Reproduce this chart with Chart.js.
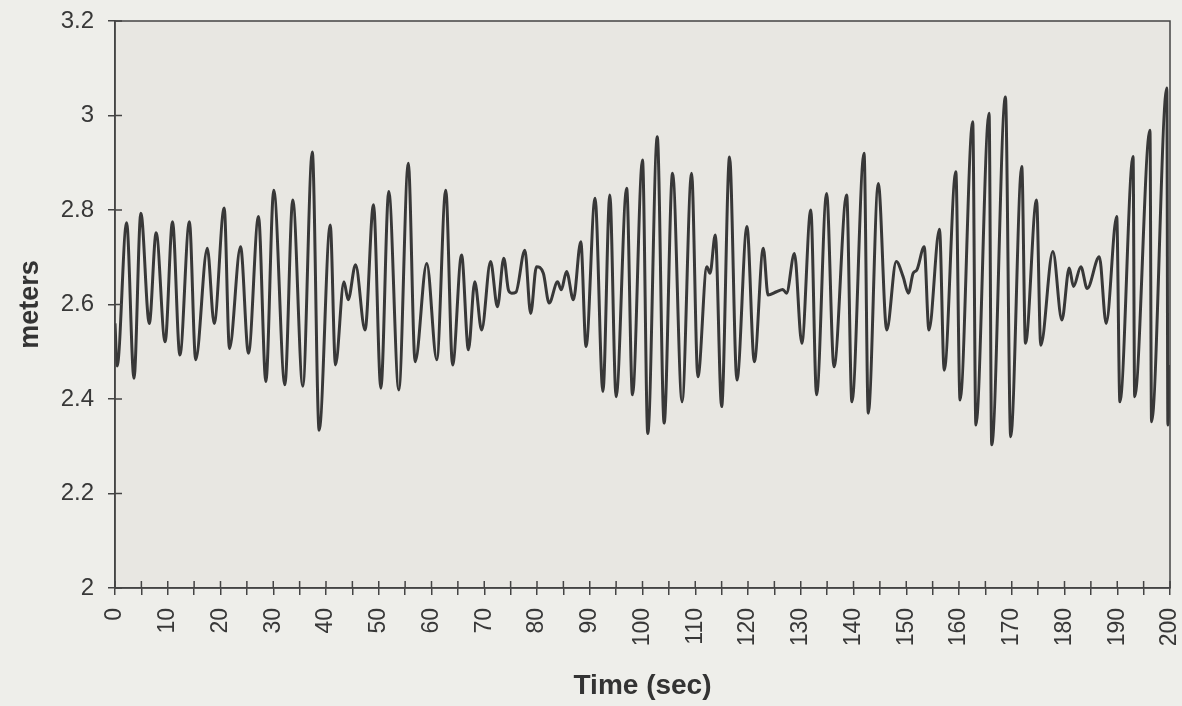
<!DOCTYPE html>
<html>
<head>
<meta charset="utf-8">
<script src="https://cdn.jsdelivr.net/npm/chart.js@4.4.1/dist/chart.umd.min.js"></script>
<style>
  html, body { margin: 0; padding: 0; background: #eeeeea; }
  #wrap { width: 1182px; height: 706px; }
</style>
</head>
<body>
<div id="wrap"><canvas id="waveChart" width="1182" height="706"></canvas></div>
<script>
// water level record (peaks and troughs)
const timeSec = [
  0, 0.4, 2.2, 3.6, 4.9, 6.5, 7.8, 9.5, 10.9, 12.3, 14.1, 15.3, 17.5, 18.8, 20.7, 21.7,
  23.8, 25.3, 27.2, 28.6, 30.1, 32.2, 33.7, 35.6, 37.4, 38.7, 40.8, 41.8, 43.4, 44.2,
  45.6, 47.4, 49.0, 50.4, 51.9, 53.8, 55.6, 56.9, 59.1, 61.0, 62.7, 64.0, 65.7, 67.0,
  68.2, 69.5, 71.2, 72.5, 73.7, 74.6, 75.2, 76.0, 77.7, 78.8, 79.9, 81.2, 82.3, 83.9,
  84.6, 85.6, 86.9, 88.3, 89.3, 91.0, 92.5, 93.8, 95.0, 97.0, 98.1, 100.0, 101.0, 102.8,
  104.1, 105.7, 107.5, 109.3, 110.5, 112.2, 112.8, 113.8, 115.0, 116.5, 117.9, 119.8,
  121.2, 122.9, 123.8, 125.4, 126.6, 127.3, 128.8, 130.2, 131.9, 133.0, 134.9, 136.3,
  138.7, 139.7, 142.0, 142.8, 144.7, 146.3, 148.1, 149.4, 150.4, 151.3, 152.0, 153.4,
  154.3, 156.3, 157.2, 159.4, 160.2, 162.6, 163.2, 165.7, 166.2, 168.8, 169.8, 171.9,
  172.6, 174.7, 175.5, 177.8, 179.5, 180.9, 181.7, 183.1, 184.3, 186.6, 187.9, 189.9,
  190.5, 193.0, 193.3, 196.2, 196.5, 199.4, 199.6, 200
];
const meters = [
  2.56, 2.47, 2.773, 2.444, 2.793, 2.56, 2.752, 2.521, 2.775, 2.493, 2.775, 2.483, 2.719, 2.56, 2.804, 2.507,
  2.722, 2.497, 2.786, 2.437, 2.842, 2.43, 2.821, 2.427, 2.923, 2.334, 2.768, 2.472, 2.648, 2.61,
  2.684, 2.546, 2.811, 2.423, 2.839, 2.419, 2.899, 2.479, 2.687, 2.483, 2.842, 2.472, 2.705, 2.504,
  2.648, 2.546, 2.691, 2.595, 2.698, 2.63, 2.624, 2.626, 2.715, 2.581, 2.68, 2.666, 2.603, 2.648,
  2.631, 2.67, 2.61, 2.733, 2.511, 2.825, 2.416, 2.832, 2.405, 2.846, 2.409, 2.906, 2.327, 2.955,
  2.349, 2.878, 2.394, 2.878, 2.447, 2.68, 2.666, 2.747, 2.384, 2.912, 2.44, 2.765,
  2.479, 2.719, 2.62, 2.627, 2.632, 2.624, 2.708, 2.518, 2.8, 2.409, 2.835, 2.468,
  2.832, 2.394, 2.92, 2.37, 2.856, 2.546, 2.691, 2.659, 2.624, 2.666, 2.673, 2.722,
  2.546, 2.759, 2.461, 2.881, 2.398, 2.987, 2.345, 3.005, 2.303, 3.039, 2.32, 2.892,
  2.518, 2.821, 2.514, 2.712, 2.567, 2.677, 2.638, 2.68, 2.634, 2.701, 2.56, 2.786,
  2.394, 2.913, 2.405, 2.969, 2.352, 3.058, 2.345, 2.472
];
const yTicks = [2, 2.2, 2.4, 2.6, 2.8, 3, 3.2];
const xLabelStep = 10;

const inkColor = '#383838';
const labelFont = 'Liberation Sans, Arial, sans-serif';

// paper-grey plot area, box outline and tick marks that cross the axes
const frame = {
  id: 'frame',
  beforeDraw(chart) {
    const { ctx, chartArea: a } = chart;
    ctx.save();
    ctx.fillStyle = '#e8e7e2';
    ctx.fillRect(a.left, a.top, a.right - a.left, a.bottom - a.top);
    ctx.restore();
  },
  afterDraw(chart) {
    const { ctx, chartArea: a, scales } = chart;
    ctx.save();
    ctx.strokeStyle = '#444';
    ctx.lineWidth = 1.5;
    ctx.strokeRect(a.left, a.top, a.right - a.left, a.bottom - a.top);
    ctx.beginPath();
    scales.x.ticks.forEach(t => {
      const px = scales.x.getPixelForValue(t.value);
      ctx.moveTo(px, a.bottom);
      ctx.lineTo(px, a.bottom - 7);
    });
    scales.y.ticks.forEach(t => {
      const py = scales.y.getPixelForValue(t.value);
      ctx.moveTo(a.left, py);
      ctx.lineTo(a.left + 7, py);
    });
    ctx.stroke();
    ctx.restore();
  }
};

const ctx = document.getElementById('waveChart').getContext('2d');
new Chart(ctx, {
  type: 'line',
  data: {
    datasets: [{
      data: timeSec.map((t, i) => ({ x: t, y: meters[i] })),
      borderColor: inkColor,
      borderWidth: 3,
      pointRadius: 0,
      cubicInterpolationMode: 'monotone',
      fill: false
    }]
  },
  options: {
    responsive: false,
    animation: false,
    layout: { padding: { top: 21, right: 0, left: 0, bottom: 0 } },
    plugins: { legend: { display: false }, tooltip: { enabled: false } },
    scales: {
      x: {
        type: 'linear',
        min: 0,
        max: 200,
        afterFit: s => { s.height = 118; s.paddingRight = 12; s.paddingLeft = 0; },
        afterBuildTicks: s => {
          const ticks = [];
          for (let v = 0; v <= 200; v += 5) ticks.push({ value: v });
          s.ticks = ticks;
        },
        ticks: {
          autoSkip: false,
          minRotation: 90,
          maxRotation: 90,
          padding: 13,
          color: inkColor,
          font: { family: labelFont, size: 23 },
          callback: v => (v % xLabelStep === 0 ? String(v) : '')
        },
        grid: { drawOnChartArea: false, color: '#444', lineWidth: 1.5, tickLength: 7 },
        border: { color: '#444', width: 1.5 },
        title: {
          display: true,
          text: 'Time (sec)',
          color: '#333',
          padding: { top: 0, bottom: 3 },
          font: { family: labelFont, size: 28, weight: 'bold' }
        }
      },
      y: {
        min: 2,
        max: 3.2,
        afterFit: s => { s.width = 115; s.paddingTop = 0; s.paddingBottom = 0; },
        afterBuildTicks: s => { s.ticks = yTicks.map(v => ({ value: v })); },
        ticks: {
          padding: 14,
          color: inkColor,
          font: { family: labelFont, size: 24 },
          callback: v => String(Number(v.toFixed(1)))
        },
        grid: { drawOnChartArea: false, color: '#444', lineWidth: 1.5, tickLength: 7 },
        border: { color: '#444', width: 1.5 },
        title: {
          display: true,
          text: 'meters',
          color: '#333',
          padding: { top: 14, bottom: 0 },
          font: { family: labelFont, size: 27, weight: 'bold' }
        }
      }
    }
  },
  plugins: [frame]
});
</script>
</body>
</html>
